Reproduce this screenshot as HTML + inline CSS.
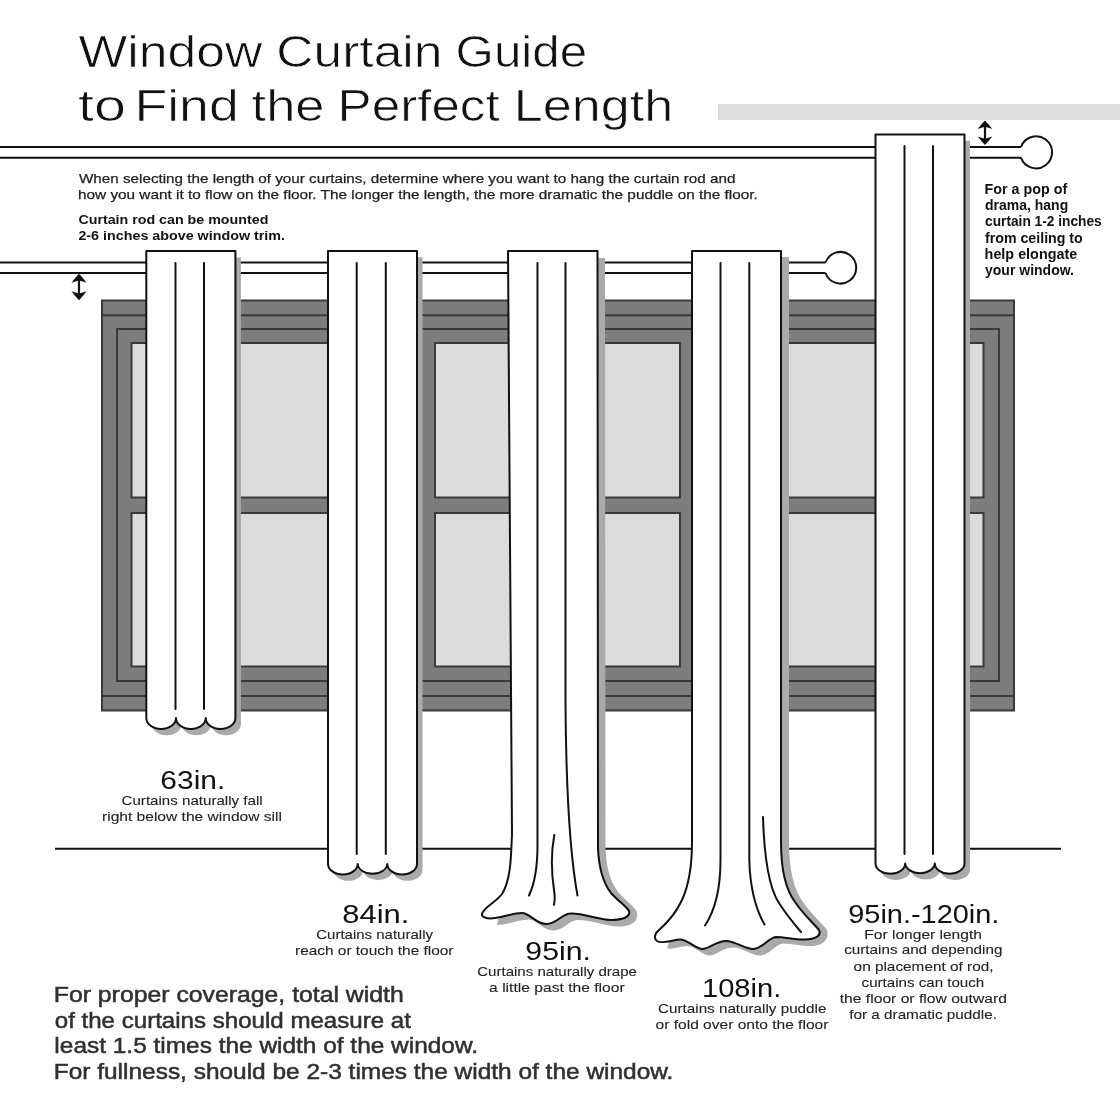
<!DOCTYPE html>
<html><head><meta charset="utf-8"><title>Window Curtain Guide</title>
<style>
html,body{margin:0;padding:0;background:#fff;}
svg{display:block;will-change:transform;}
text{font-family:"Liberation Sans",sans-serif;}
</style></head>
<body>
<svg width="1120" height="1120" viewBox="0 0 1120 1120">
<rect x="0" y="0" width="1120" height="1120" fill="#fff"/>
<!-- gray ceiling bar -->
<rect x="718" y="104" width="402" height="16" fill="#dedede"/>

<!-- TOP ROD -->
<g stroke="#111" stroke-width="2" fill="none">
<line x1="0" y1="147" x2="1022" y2="147"/>
<line x1="0" y1="157.7" x2="1022" y2="157.7"/>
</g>
<path d="M1021,147 A16,16 0 1 1 1021,157.7" fill="#fff" stroke="#111" stroke-width="2" stroke-linejoin="round"/>

<!-- LOWER ROD -->
<g stroke="#111" stroke-width="2" fill="none">
<line x1="0" y1="262.5" x2="826" y2="262.5"/>
<line x1="0" y1="273" x2="826" y2="273"/>
</g>
<path d="M825.5,262.5 A15.8,15.8 0 1 1 825.5,273" fill="#fff" stroke="#111" stroke-width="2" stroke-linejoin="round"/>

<!-- WINDOW -->
<g stroke="#3a3a3a" stroke-width="2">
<rect x="102" y="300.5" width="912" height="410" fill="#7d7d7d"/>
<path d="M102,315.3 H1014 M102,696 H1014" fill="none"/>
<rect x="117" y="329" width="882" height="352" fill="none"/>
<rect x="131.5" y="343" width="245" height="154.5" fill="#dcdcdc"/>
<rect x="131.5" y="513" width="245" height="153.5" fill="#dcdcdc"/>
<rect x="435" y="343" width="245" height="154.5" fill="#dcdcdc"/>
<rect x="435" y="513" width="245" height="153.5" fill="#dcdcdc"/>
<rect x="738.5" y="343" width="245" height="154.5" fill="#dcdcdc"/>
<rect x="738.5" y="513" width="245" height="153.5" fill="#dcdcdc"/>
</g>

<!-- FLOOR -->
<line x1="55" y1="848.7" x2="1061" y2="848.7" stroke="#111" stroke-width="2"/>

<!-- CURTAINS -->
<g id="c1">
<path transform="translate(5.5,6.3)" d="M146.3,251.1 H235.4 V718 A14.85,11 0 0 1 205.7,718 A14.85,11 0 0 1 176,718 A14.85,11 0 0 1 146.3,718 Z" fill="#aaa"/>
<path d="M146.3,251.1 H235.4 V718 A14.85,11 0 0 1 205.7,718 A14.85,11 0 0 1 176,718 A14.85,11 0 0 1 146.3,718 Z" fill="#fff" stroke="#111" stroke-width="2" stroke-linejoin="round"/>
<path d="M175.5,263 V709 M204,263 V709" stroke="#111" stroke-width="2" fill="none" stroke-linecap="round"/>
</g>
<g id="c2">
<path transform="translate(5.5,6.3)" d="M328,251 H417 V864 A14.83,10.5 0 0 1 387.3,864 A14.83,10.5 0 0 1 357.7,864 A14.83,10.5 0 0 1 328,864 Z" fill="#aaa"/>
<path d="M328,251 H417 V864 A14.83,10.5 0 0 1 387.3,864 A14.83,10.5 0 0 1 357.7,864 A14.83,10.5 0 0 1 328,864 Z" fill="#fff" stroke="#111" stroke-width="2" stroke-linejoin="round"/>
<path d="M356.7,263 V854 M385.8,263 V854" stroke="#111" stroke-width="2" fill="none" stroke-linecap="round"/>
</g>
<g id="c5">
<path transform="translate(5.5,6.3)" d="M875.5,134.5 H964.5 V863.5 A14.83,10.3 0 0 1 934.8,863.5 A14.83,10.3 0 0 1 905.2,863.5 A14.83,10.3 0 0 1 875.5,863.5 Z" fill="#aaa"/>
<path d="M875.5,134.5 H964.5 V863.5 A14.83,10.3 0 0 1 934.8,863.5 A14.83,10.3 0 0 1 905.2,863.5 A14.83,10.3 0 0 1 875.5,863.5 Z" fill="#fff" stroke="#111" stroke-width="2" stroke-linejoin="round"/>
<path d="M904.5,146 V854 M933,146 V854" stroke="#111" stroke-width="2" fill="none" stroke-linecap="round"/>
</g>

<!-- curtain 3 (95in puddle) -->
<g id="c3">
<path d="M515,258 H605 L605.5,848 C606.5,872 612,884 619,893 C626,901 634,906 637,912 C639,923 629,926.5 618,926.5 C607,926.5 590,919.5 577.5,920 C569,920 564,930.5 553.3,930.5 C542.6,930.5 537,919.5 529,919.5 C519,919.5 507,925 497,925 L515,850 Z" fill="#aaa"/>
<path d="M508,251 H597.5 L598,848 C599,872 604,884 611,893 C618,901 626,906 629,911 C631,917 622,920 611,920 C600,920 583,913 570.5,913.5 C562,913.5 557,924 546.3,924 C535.6,924 530,913 522,913 C512,913 500,918.5 490,918.5 C484,918.5 480.5,916 482.6,912.5 C486,906 497,901 502,894 C507,886 510,875 511,855 L512,835 Z" fill="#fff" stroke="#111" stroke-width="2" stroke-linejoin="round"/>
<path d="M537.5,263 V845 C537.5,870 534,885 529,895.5 M565.5,263 V700 C566,790 571,860 577.5,895.5 M554.3,835 C551.5,850 551,870 554,890 C555,896 555,900 554,904.8" stroke="#111" stroke-width="2" fill="none" stroke-linecap="round"/>
</g>

<!-- curtain 4 (108in puddle) -->
<g id="c4">
<path d="M700,257 H789 V842 C789,870 794,890 803,902 C811,914 823,924 827,930 C830,940 822,946 812,946 C802,946.5 792,943.5 783,943.5 C775,944.5 769,955.5 760,955.5 C752,955.5 742,947.5 733,947.5 C723,947.5 716,955.5 709.5,955.5 C703,955.5 695,946.5 688,946 C682,945.5 675,949.5 667,948.5 L700,845 Z" fill="#aaa"/>
<path d="M692,251 H781 V842 C781,870 786,890 795,902 C803,914 815,925 819,930 C822,936 815,939 805,939.5 C795,940 785,937 776,937 C768,938 762,949 753,949 C745,949 735,941 726,941 C716,941 709,949 702.5,949 C696,949 688,940 681,939.5 C675,939 668,943 660,942 C654,941 653,935 659,930 C667,923 676,913 682,900 C688,887 692,870 692,842 Z" fill="#fff" stroke="#111" stroke-width="2" stroke-linejoin="round"/>
<path d="M720.5,263 V860 C720.5,890 714,912 705,925.5 M749.3,263 V860 C750,885 755,908 764.5,924.5 M763,817 C764,850 767,885 779,903 C786,914 795,925 801,932" stroke="#111" stroke-width="2" fill="none" stroke-linecap="round"/>
</g>

<!-- ARROWS -->
<g fill="#111">
<path d="M79,273.8 Q83,277.8 86.5,282.8 Q82.5,281.6 79,280.6 Q75.5,281.6 71.5,282.8 Q75,277.8 79,273.8 Z M79,300.2 Q83,296.2 86.5,291.2 Q82.5,292.4 79,293.4 Q75.5,292.4 71.5,291.2 Q75,296.2 79,300.2 Z"/>
<rect x="77.9" y="277.8" width="2.2" height="18.399999999999977"/>
<path d="M985,120.5 Q989,124.5 992.2,128.9 Q988.5,127.7 985,126.7 Q981.5,127.7 977.8,128.9 Q981,124.5 985,120.5 Z M985,145 Q989,141 992.2,136.6 Q988.5,137.8 985,138.8 Q981.5,137.8 977.8,136.6 Q981,141 985,145 Z"/>
<rect x="983.9" y="124.5" width="2.2" height="16.5"/>
</g>

<text id="t1a" x="78.60" y="66.5" font-size="45" fill="#111" stroke="#fff" stroke-width="0.7" textLength="183.64" lengthAdjust="spacingAndGlyphs">Window</text>
<text id="t1b" x="276.28" y="66.5" font-size="45" fill="#111" stroke="#fff" stroke-width="0.7" textLength="166.24" lengthAdjust="spacingAndGlyphs">Curtain</text>
<text id="t1c" x="455.60" y="66.5" font-size="45" fill="#111" stroke="#fff" stroke-width="0.7" textLength="131.52" lengthAdjust="spacingAndGlyphs">Guide</text>
<text id="t2a" x="78.00" y="121" font-size="45" fill="#111" stroke="#fff" stroke-width="0.7" textLength="47.92" lengthAdjust="spacingAndGlyphs">to</text>
<text id="t2b" x="134.48" y="121" font-size="45" fill="#111" stroke="#fff" stroke-width="0.7" textLength="104.28" lengthAdjust="spacingAndGlyphs">Find</text>
<text id="t2c" x="251.60" y="121" font-size="45" fill="#111" stroke="#fff" stroke-width="0.7" textLength="72.88" lengthAdjust="spacingAndGlyphs">the</text>
<text id="t2d" x="337.56" y="121" font-size="45" fill="#111" stroke="#fff" stroke-width="0.7" textLength="162.12" lengthAdjust="spacingAndGlyphs">Perfect</text>
<text id="t2e" x="513.80" y="121" font-size="45" fill="#111" stroke="#fff" stroke-width="0.7" textLength="159.32" lengthAdjust="spacingAndGlyphs">Length</text>
<text id="d1" x="79.00" y="183" font-size="13.5" fill="#1e1e1e" stroke="#1e1e1e" stroke-width="0.25" textLength="656.38" lengthAdjust="spacingAndGlyphs">When selecting the length of your curtains, determine where you want to hang the curtain rod and</text>
<text id="d2" x="78.00" y="198.8" font-size="13.5" fill="#1e1e1e" stroke="#1e1e1e" stroke-width="0.25" textLength="679.78" lengthAdjust="spacingAndGlyphs">how you want it to flow on the floor. The longer the length, the more dramatic the puddle on the floor.</text>
<text id="b1" x="78.40" y="224.3" font-size="13.7" font-weight="bold" fill="#111" textLength="189.96" lengthAdjust="spacingAndGlyphs">Curtain rod can be mounted</text>
<text id="b2" x="78.40" y="240.4" font-size="13.7" font-weight="bold" fill="#111" textLength="206.60" lengthAdjust="spacingAndGlyphs">2-6 inches above window trim.</text>
<text id="p1" x="984.62" y="193.8" font-size="14.2" font-weight="bold" fill="#111" textLength="82.60" lengthAdjust="spacingAndGlyphs">For a pop of</text>
<text id="p2" x="985.02" y="210" font-size="14.2" font-weight="bold" fill="#111" textLength="83.20" lengthAdjust="spacingAndGlyphs">drama, hang</text>
<text id="p3" x="985.02" y="226.3" font-size="14.2" font-weight="bold" fill="#111" textLength="116.74" lengthAdjust="spacingAndGlyphs">curtain 1-2 inches</text>
<text id="p4" x="985.02" y="242.5" font-size="14.2" font-weight="bold" fill="#111" textLength="97.74" lengthAdjust="spacingAndGlyphs">from ceiling to</text>
<text id="p5" x="984.62" y="258.8" font-size="14.2" font-weight="bold" fill="#111" textLength="92.60" lengthAdjust="spacingAndGlyphs">help elongate</text>
<text id="p6" x="985.02" y="275" font-size="14.2" font-weight="bold" fill="#111" textLength="88.98" lengthAdjust="spacingAndGlyphs">your window.</text>
<text id="l1a" x="160.38" y="789" font-size="25.5" fill="#111" textLength="64.84" lengthAdjust="spacingAndGlyphs">63in.</text>
<text id="l1b" x="121.55" y="805.3" font-size="13.2" fill="#222" stroke="#222" stroke-width="0.1" textLength="141.09" lengthAdjust="spacingAndGlyphs">Curtains naturally fall</text>
<text id="l1c" x="102.00" y="821.3" font-size="13.2" fill="#222" stroke="#222" stroke-width="0.1" textLength="179.95" lengthAdjust="spacingAndGlyphs">right below the window sill</text>
<text id="l2a" x="342.36" y="923" font-size="25.5" fill="#111" textLength="67.00" lengthAdjust="spacingAndGlyphs">84in.</text>
<text id="l2b" x="316.24" y="939" font-size="13.2" fill="#222" stroke="#222" stroke-width="0.1" textLength="116.74" lengthAdjust="spacingAndGlyphs">Curtains naturally</text>
<text id="l2c" x="295.00" y="955.2" font-size="13.2" fill="#222" stroke="#222" stroke-width="0.1" textLength="158.48" lengthAdjust="spacingAndGlyphs">reach or touch the floor</text>
<text id="l3a" x="525.36" y="959.5" font-size="25.5" fill="#111" textLength="65.52" lengthAdjust="spacingAndGlyphs">95in.</text>
<text id="l3b" x="477.26" y="975.5" font-size="13.2" fill="#222" stroke="#222" stroke-width="0.1" textLength="159.66" lengthAdjust="spacingAndGlyphs">Curtains naturally drape</text>
<text id="l3c" x="489.10" y="991.6" font-size="13.2" fill="#222" stroke="#222" stroke-width="0.1" textLength="135.52" lengthAdjust="spacingAndGlyphs">a little past the floor</text>
<text id="l4a" x="702.02" y="996.6" font-size="25.5" fill="#111" textLength="79.24" lengthAdjust="spacingAndGlyphs">108in.</text>
<text id="l4b" x="658.05" y="1013.2" font-size="13.2" fill="#222" stroke="#222" stroke-width="0.1" textLength="168.33" lengthAdjust="spacingAndGlyphs">Curtains naturally puddle</text>
<text id="l4c" x="655.60" y="1028.75" font-size="13.2" fill="#222" stroke="#222" stroke-width="0.1" textLength="172.76" lengthAdjust="spacingAndGlyphs">or fold over onto the floor</text>
<text id="l5a" x="848.24" y="923" font-size="25.5" fill="#111" textLength="151.16" lengthAdjust="spacingAndGlyphs">95in.-120in.</text>
<text id="l5b" x="864.38" y="939.1" font-size="13.2" fill="#222" stroke="#222" stroke-width="0.1" textLength="117.48" lengthAdjust="spacingAndGlyphs">For longer length</text>
<text id="l5c" x="844.24" y="954.3" font-size="13.2" fill="#222" stroke="#222" stroke-width="0.1" textLength="158.12" lengthAdjust="spacingAndGlyphs">curtains and depending</text>
<text id="l5d" x="853.60" y="971.25" font-size="13.2" fill="#222" stroke="#222" stroke-width="0.1" textLength="139.90" lengthAdjust="spacingAndGlyphs">on placement of rod,</text>
<text id="l5e" x="861.60" y="987.3" font-size="13.2" fill="#222" stroke="#222" stroke-width="0.1" textLength="122.64" lengthAdjust="spacingAndGlyphs">curtains can touch</text>
<text id="l5f" x="839.72" y="1003.4" font-size="13.2" fill="#222" stroke="#222" stroke-width="0.1" textLength="167.14" lengthAdjust="spacingAndGlyphs">the floor or flow outward</text>
<text id="l5g" x="849.24" y="1018.6" font-size="13.2" fill="#222" stroke="#222" stroke-width="0.1" textLength="147.76" lengthAdjust="spacingAndGlyphs">for a dramatic puddle.</text>
<text id="f1" x="53.78" y="1002.3" font-size="21.5" fill="#303030" stroke="#303030" stroke-width="0.5" textLength="349.98" lengthAdjust="spacingAndGlyphs">For proper coverage, total width</text>
<text id="f2" x="54.78" y="1027.9" font-size="21.5" fill="#303030" stroke="#303030" stroke-width="0.5" textLength="356.10" lengthAdjust="spacingAndGlyphs">of the curtains should measure at</text>
<text id="f3" x="54.38" y="1053.3" font-size="21.5" fill="#303030" stroke="#303030" stroke-width="0.5" textLength="423.62" lengthAdjust="spacingAndGlyphs">least 1.5 times the width of the window.</text>
<text id="f4" x="53.78" y="1078.8" font-size="21.5" fill="#303030" stroke="#303030" stroke-width="0.5" textLength="619.60" lengthAdjust="spacingAndGlyphs">For fullness, should be 2-3 times the width of the window.</text>
</svg>
</body></html>
